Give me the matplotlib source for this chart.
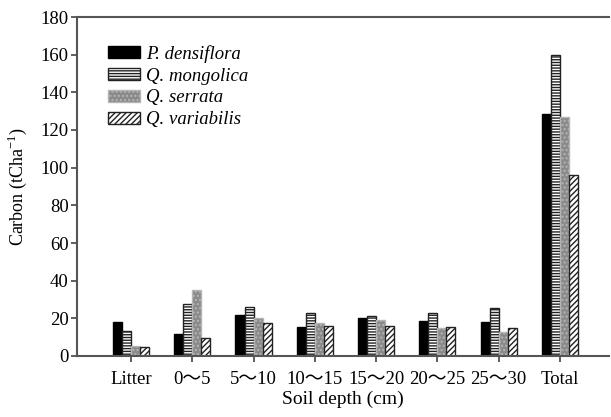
import matplotlib
matplotlib.use("Agg")
import matplotlib.pyplot as plt
import numpy as np

plt.rcParams['font.family'] = ['Liberation Serif', 'Noto Sans CJK SC', 'DejaVu Serif']
plt.rcParams['mathtext.fontset'] = 'custom'
plt.rcParams['mathtext.rm'] = 'Liberation Serif'
plt.rcParams['hatch.linewidth'] = 1.0

categories = ['Litter', '0～5', '5～10', '10～15', '15～20', '20～25', '25～30', 'Total']
series_names = ['P. densiflora', 'Q. mongolica', 'Q. serrata', 'Q. variabilis']
p_densiflora = [18.0, 11.5, 22.0, 15.6, 20.0, 18.4, 18.0, 128.5]
q_mongolica = [13.5, 27.6, 26.0, 22.8, 21.2, 22.8, 25.5, 160.0]
q_serrata = [5.5, 35.0, 20.4, 17.7, 18.9, 14.7, 13.0, 126.7]
q_variabilis = [5.0, 9.4, 17.7, 15.9, 16.1, 15.4, 15.0, 96.1]
yticks = [0, 20, 40, 60, 80, 100, 120, 140, 160, 180]

fig = plt.figure(figsize=(6.11, 4.17), dpi=100)
ax = fig.add_axes([77/611, 1-356/417, (609-77)/611, (356-17)/417])

x = np.arange(len(categories))
w = 0.147
styles = [
    dict(facecolor='black', edgecolor='black', hatch=None),
    dict(facecolor='white', edgecolor='#222222', hatch='------'),
    dict(facecolor='#8a8a8a', edgecolor='#b5b5b5', hatch='....'),
    dict(facecolor='white', edgecolor='#222222', hatch='//////'),
]
data = [p_densiflora, q_mongolica, q_serrata, q_variabilis]
handles = []
for i, (vals, st, name) in enumerate(zip(data, styles, series_names)):
    b = ax.bar(x + (i - 1.5) * w, vals, width=w, linewidth=1.0, label=name, **st)
    handles.append(b)

ax.set_xlim(-0.88, 7.8)
ax.set_ylim(0, 180)
ax.set_yticks(yticks)
ax.set_xticks(x)
ax.set_xticklabels(categories, fontsize=13.5)
ax.tick_params(axis='y', labelsize=13.5, direction='out', length=4, width=1.2, color='#444444', pad=2)
ax.tick_params(axis='x', direction='out', length=4, width=1.2, color='#444444', pad=7)
for s in ['left', 'top', 'bottom']:
    ax.spines[s].set_color('#555555')
    ax.spines[s].set_linewidth(1.5)
ax.spines['right'].set_visible(False)

ax.set_ylabel('Carbon (tCha$^{-1}$)', fontsize=13, labelpad=8)
ax.set_xlabel('Soil depth (cm)', fontsize=14, labelpad=2)

leg = ax.legend(handles=handles, loc='upper left', bbox_to_anchor=(0.045, 0.94), frameon=False,
                prop={'style': 'italic', 'size': 13.5}, handlelength=1.7, handleheight=0.6,
                handletextpad=0.3, labelspacing=0.26, borderaxespad=0)

fig.savefig('out.png', dpi=100)
